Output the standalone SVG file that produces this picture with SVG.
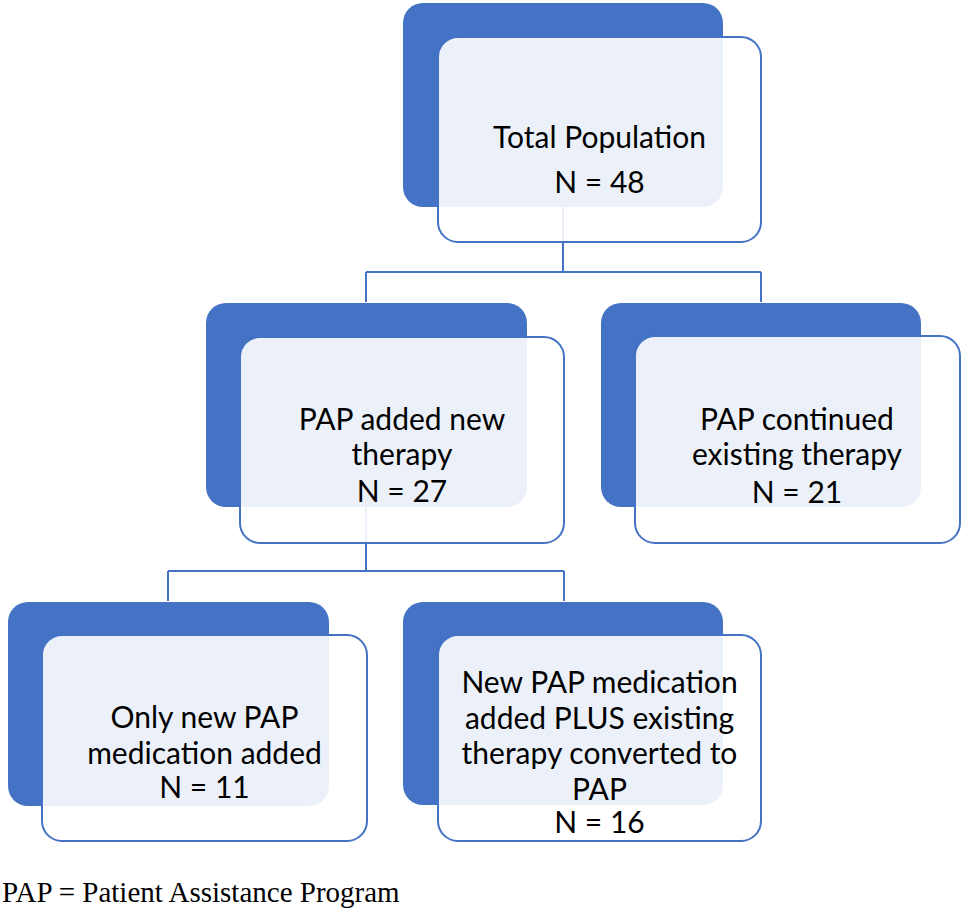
<svg xmlns="http://www.w3.org/2000/svg" width="967" height="913" viewBox="0 0 967 913">
<style>
.back{fill:#4472c4;stroke:none}
.front{fill:#ffffff;fill-opacity:0.9;stroke:#4472c4;stroke-width:2}
.lbl{font-family:Lato,"Open Sans","Liberation Sans",sans-serif;font-size:30px;fill:#000;text-anchor:middle}
.conn{fill:none;stroke:#4472c4;stroke-width:2}
.foot{font-family:"Liberation Serif","Times New Roman",serif;font-size:29px;fill:#000}
</style>
<rect width="967" height="913" fill="#ffffff"/>
<g id="connectors">
<path class="conn" d="M563,207 V272 M366,272 H761 M366,272 V302 M761,272 V302"/>
<path class="conn" d="M366,507 V571 M168,571 H564 M168,571 V601 M564,571 V601"/>
</g>
<g id="node-total">
<rect class="back" x="403" y="3" width="320" height="204" rx="20"/>
<rect class="front" x="438" y="37" width="323" height="205" rx="20"/>
<text class="lbl" x="599.5" y="148">Total Population</text>
<text class="lbl" x="599.5" y="193">N = 48</text>
</g>
<g id="node-added">
<rect class="back" x="206" y="303" width="321" height="204" rx="20"/>
<rect class="front" x="240" y="337" width="324" height="206" rx="20"/>
<text class="lbl" x="402" y="430">PAP added new</text>
<text class="lbl" x="402" y="465">therapy</text>
<text class="lbl" x="402" y="502">N = 27</text>
</g>
<g id="node-continued">
<rect class="back" x="601" y="303" width="320" height="204" rx="20"/>
<rect class="front" x="635" y="336" width="325" height="207" rx="20"/>
<text class="lbl" x="797" y="430">PAP continued</text>
<text class="lbl" x="797" y="465">existing therapy</text>
<text class="lbl" x="797" y="503">N = 21</text>
</g>
<g id="node-only-new">
<rect class="back" x="8" y="602" width="321" height="204" rx="20"/>
<rect class="front" x="42" y="635" width="325" height="206" rx="20"/>
<text class="lbl" x="204.5" y="728">Only new PAP</text>
<text class="lbl" x="204.5" y="764">medication added</text>
<text class="lbl" x="204.5" y="798">N = 11</text>
</g>
<g id="node-new-plus">
<rect class="back" x="403" y="602" width="320" height="203" rx="20"/>
<rect class="front" x="438" y="635" width="323" height="206" rx="20"/>
<text class="lbl" x="599.5" y="693">New PAP medication</text>
<text class="lbl" x="599.5" y="729">added PLUS existing</text>
<text class="lbl" x="599.5" y="764">therapy converted to</text>
<text class="lbl" x="599.5" y="800">PAP</text>
<text class="lbl" x="599.5" y="833">N = 16</text>
</g>
<text class="foot" x="2" y="902">PAP = Patient Assistance Program</text>
</svg>
